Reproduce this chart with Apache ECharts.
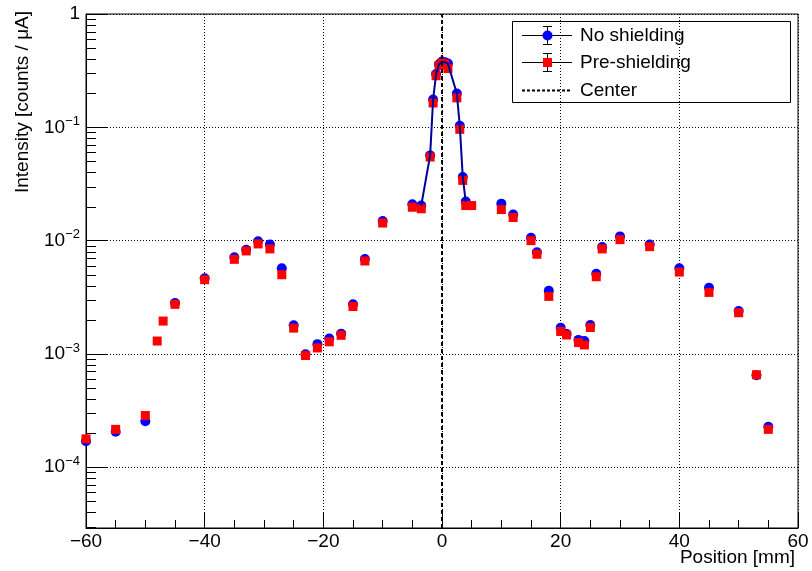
<!DOCTYPE html>
<html>
<head>
<meta charset="utf-8">
<title>Beam profile</title>
<script src="https://cdn.jsdelivr.net/npm/echarts@6/dist/echarts.min.js"></script>
<style>
  html, body { margin: 0; padding: 0; background: #fff; }
  #chart { width: 812px; height: 571px; }
</style>
</head>
<body>
<div id="chart"></div>
<script>
// Scan positions [mm] and measured intensities [counts / uA]
const posNoShield = [-60, -55, -50, -45, -40, -35, -33, -31, -29, -27, -25, -23, -21, -19, -17, -15, -13, -10,
  -5, -3.5, -2, -1.5, -1, -0.5, 0, 0.5, 1, 2.5, 3, 3.5, 4,
  10, 12, 15, 16, 18, 20, 21, 23, 24, 25, 26, 27, 30, 35, 40, 45, 50, 53, 55];
const valNoShield = [1.70e-4, 2.06e-4, 2.55e-4, 2.81e-3, 4.65e-3, 7.13e-3, 8.32e-3, 9.89e-3, 9.22e-3, 5.70e-3, 1.79e-3, 9.93e-4, 1.22e-3, 1.37e-3, 1.51e-3, 2.74e-3, 6.89e-3, 1.49e-2,
  2.09e-2, 2.04e-2, 5.65e-2, 0.176, 0.295, 0.36, 0.38, 0.375, 0.365, 0.199, 0.103, 3.64e-2, 2.21e-2,
  2.12e-2, 1.70e-2, 1.06e-2, 7.9e-3, 3.61e-3, 1.70e-3, 1.50e-3, 1.33e-3, 1.30e-3, 1.80e-3, 5.11e-3, 8.80e-3, 1.09e-2, 9.22e-3, 5.70e-3, 3.84e-3, 2.39e-3, 6.49e-4, 2.28e-4];

const posPreShield = [-60, -55, -50, -48, -47, -45, -40, -35, -33, -31, -29, -27, -25, -23, -21, -19, -17, -15, -13, -10,
  -5, -3.5, -2, -1.5, -1, -0.5, 0, 0.5, 1, 2.5, 3, 3.5, 4, 5,
  10, 12, 15, 16, 18, 20, 21, 23, 24, 25, 26, 27, 30, 35, 40, 45, 50, 53, 55];
const valPreShield = [1.78e-4, 2.16e-4, 2.86e-4, 1.30e-3, 1.95e-3, 2.74e-3, 4.52e-3, 6.84e-3, 8.11e-3, 9.35e-3, 8.45e-3, 5.0e-3, 1.69e-3, 9.68e-4, 1.13e-3, 1.28e-3, 1.46e-3, 2.62e-3, 6.61e-3, 1.43e-2,
  1.97e-2, 1.91e-2, 5.47e-2, 0.164, 0.285, 0.35, 0.37, 0.36, 0.33, 0.182, 0.096, 3.40e-2, 2.04e-2, 2.04e-2,
  1.88e-2, 1.60e-2, 1.0e-2, 7.58e-3, 3.22e-3, 1.58e-3, 1.47e-3, 1.26e-3, 1.20e-3, 1.71e-3, 4.80e-3, 8.45e-3, 1.02e-2, 8.85e-3, 5.28e-3, 3.49e-3, 2.31e-3, 6.55e-4, 2.16e-4];

// Fine scan across the beam core, joined by a line
const coreRange = [-3.5, 4];
const centerPosition = [0];

const xTicks = [-60, -40, -20, 0, 20, 40, 60];
const yDecades = [1e-4, 1e-3, 1e-2, 1e-1, 1];
const yRange = [2.91e-5, 1];

const FONT = '"Liberation Sans", Arial, Helvetica, sans-serif';

const pairs = (xs, ys) => xs.map((x, i) => [x, ys[i]]);
const coreLine = pairs(posNoShield, valNoShield).filter(p => p[0] >= coreRange[0] && p[0] <= coreRange[1]);

// minor log ticks 2..9 x 10^n inside the axis range
const yMinor = [];
for (let e = -5; e < 0; e++) {
  for (let m = 2; m <= 9; m++) {
    const v = m * Math.pow(10, e);
    if (v >= yRange[0] && v <= yRange[1]) yMinor.push(v);
  }
}

function decadeLabel(v) {
  const lg = Math.log10(v);
  const e = Math.round(lg);
  if (Math.abs(lg - e) > 1e-6) return '';
  if (e === 0) return '{b|1}';
  return '{b|10}{e|' + (e < 0 ? '\u2212' + (-e) : e) + '}';
}

const chart = echarts.init(document.getElementById('chart'), null, { renderer: 'canvas' });

const legendX = 512, legendY = 21;
const legendRows = [35, 62, 90];

chart.setOption({
  animation: false,
  backgroundColor: '#fff',
  textStyle: { fontFamily: FONT },
  grid: {
    left: 86, right: 14, top: 14, bottom: 43,
    outerBoundsMode: 'none',
    containLabel: false,
    show: true, borderColor: '#000', borderWidth: 1, backgroundColor: 'transparent'
  },
  xAxis: {
    type: 'value',
    min: xTicks[0], max: xTicks[xTicks.length - 1], interval: 20,
    name: 'Position [mm]',
    nameLocation: 'end',
    nameGap: -3,
    nameMoveOverlap: false,
    nameTextStyle: { fontFamily: FONT, fontSize: 19, color: '#000', align: 'right', verticalAlign: 'top', padding: [20, 0, 0, 0] },
    axisLine: { show: true, onZero: false, lineStyle: { color: '#000', width: 1 } },
    axisTick: { show: true, inside: true, length: 15, lineStyle: { color: '#000' } },
    minorTick: { show: true, splitNumber: 4, length: 8, lineStyle: { color: '#000' } },
    axisLabel: {
      color: '#000', fontFamily: FONT, fontSize: 19, margin: 4,
      formatter: v => String(v).replace('-', '\u2212')
    },
    splitLine: { show: true, lineStyle: { color: '#000', type: [1, 2], width: 1 } },
    minorSplitLine: { show: false }
  },
  yAxis: {
    type: 'log', logBase: 10,
    min: yRange[0], max: yRange[1],
    name: 'Intensity [counts / \u03bcA]',
    nameLocation: 'end',
    nameRotate: 90,
    nameGap: -179,
    nameMoveOverlap: false,
    nameTextStyle: { fontFamily: FONT, fontSize: 19, color: '#000', align: 'left', verticalAlign: 'bottom', padding: [0, 0, 54, 0] },
    axisLine: { show: true, onZero: false, lineStyle: { color: '#000', width: 1 } },
    axisTick: { show: true, inside: true, length: 21, lineStyle: { color: '#000' } },
    axisLabel: {
      show: true, margin: 6,
      formatter: decadeLabel,
      rich: {
        b: { fontFamily: FONT, fontSize: 19, color: '#000' },
        e: { fontFamily: FONT, fontSize: 13, color: '#000', padding: [0, 0, 12, 0] }
      }
    },
    splitLine: { show: true, lineStyle: { color: '#000', type: [1, 2], width: 1 } }
  },
  series: [
    {
      name: 'Center',
      type: 'line',
      data: [],
      z: 2,
      markLine: {
        silent: true,
        symbol: 'none',
        label: { show: false },
        lineStyle: { color: '#000', type: [4, 3], width: 2 },
        data: centerPosition.map(x => ({ xAxis: x }))
      }
    },
    {
      // secondary ticks 2..9 on the log axis
      name: 'minor ticks',
      type: 'custom',
      silent: true,
      clip: false,
      z: 1,
      data: yMinor.map(v => [xTicks[0], v]),
      renderItem: (params, api) => {
        const p = api.coord([api.value(0), api.value(1)]);
        const y = Math.round(p[1]) + 0.5;
        return {
          type: 'line',
          shape: { x1: p[0], y1: y, x2: p[0] + 10, y2: y },
          style: { stroke: '#000', lineWidth: 1 }
        };
      }
    },
    {
      name: 'No shielding',
      type: 'scatter',
      data: pairs(posNoShield, valNoShield),
      symbol: 'circle',
      symbolSize: 10,
      itemStyle: { color: '#0000ff', opacity: 1 },
      z: 3
    },
    {
      name: 'Pre-shielding',
      type: 'scatter',
      data: pairs(posPreShield, valPreShield),
      symbol: 'rect',
      symbolSize: 9,
      itemStyle: { color: '#ff0000', opacity: 1 },
      z: 4
    },
    {
      name: 'No shielding core',
      type: 'line',
      data: coreLine,
      showSymbol: false,
      symbol: 'none',
      lineStyle: { color: '#000099', width: 2 },
      z: 5
    }
  ],
  graphic: [
    {
      type: 'group',
      z: 100,
      children: [
        { type: 'rect', shape: { x: legendX + 0.5, y: legendY + 0.5, width: 278, height: 81 },
          style: { fill: '#fff', stroke: '#000', lineWidth: 1 } },
        // No shielding entry
        { type: 'line', shape: { x1: 522, y1: legendRows[0] + 0.5, x2: 572, y2: legendRows[0] + 0.5 }, style: { stroke: '#000', lineWidth: 1 } },
        { type: 'line', shape: { x1: 547.5, y1: legendRows[0] - 9, x2: 547.5, y2: legendRows[0] + 9 }, style: { stroke: '#000', lineWidth: 1 } },
        { type: 'line', shape: { x1: 543, y1: legendRows[0] - 8.5, x2: 552, y2: legendRows[0] - 8.5 }, style: { stroke: '#000', lineWidth: 1 } },
        { type: 'line', shape: { x1: 543, y1: legendRows[0] + 9.5, x2: 552, y2: legendRows[0] + 9.5 }, style: { stroke: '#000', lineWidth: 1 } },
        { type: 'circle', shape: { cx: 547.5, cy: legendRows[0] + 0.5, r: 5 }, style: { fill: '#0000ff' } },
        { type: 'text', x: 580, y: legendRows[0] + 0.5, style: { text: 'No shielding', font: '19px ' + FONT, fill: '#000', verticalAlign: 'middle', align: 'left' } },
        // Pre-shielding entry
        { type: 'line', shape: { x1: 522, y1: legendRows[1] + 0.5, x2: 572, y2: legendRows[1] + 0.5 }, style: { stroke: '#000', lineWidth: 1 } },
        { type: 'line', shape: { x1: 547.5, y1: legendRows[1] - 9, x2: 547.5, y2: legendRows[1] + 9 }, style: { stroke: '#000', lineWidth: 1 } },
        { type: 'line', shape: { x1: 543, y1: legendRows[1] - 8.5, x2: 552, y2: legendRows[1] - 8.5 }, style: { stroke: '#000', lineWidth: 1 } },
        { type: 'line', shape: { x1: 543, y1: legendRows[1] + 9.5, x2: 552, y2: legendRows[1] + 9.5 }, style: { stroke: '#000', lineWidth: 1 } },
        { type: 'rect', shape: { x: 543, y: legendRows[1] - 4, width: 9, height: 9 }, style: { fill: '#ff0000' } },
        { type: 'text', x: 580, y: legendRows[1] + 0.5, style: { text: 'Pre-shielding', font: '19px ' + FONT, fill: '#000', verticalAlign: 'middle', align: 'left' } },
        // Center entry
        { type: 'line', shape: { x1: 522, y1: legendRows[2] + 0.5, x2: 572, y2: legendRows[2] + 0.5 }, style: { stroke: '#000', lineWidth: 2, lineDash: [3, 2] } },
        { type: 'text', x: 580, y: legendRows[2] + 0.5, style: { text: 'Center', font: '19px ' + FONT, fill: '#000', verticalAlign: 'middle', align: 'left' } }
      ]
    }
  ]
});
</script>
</body>
</html>
